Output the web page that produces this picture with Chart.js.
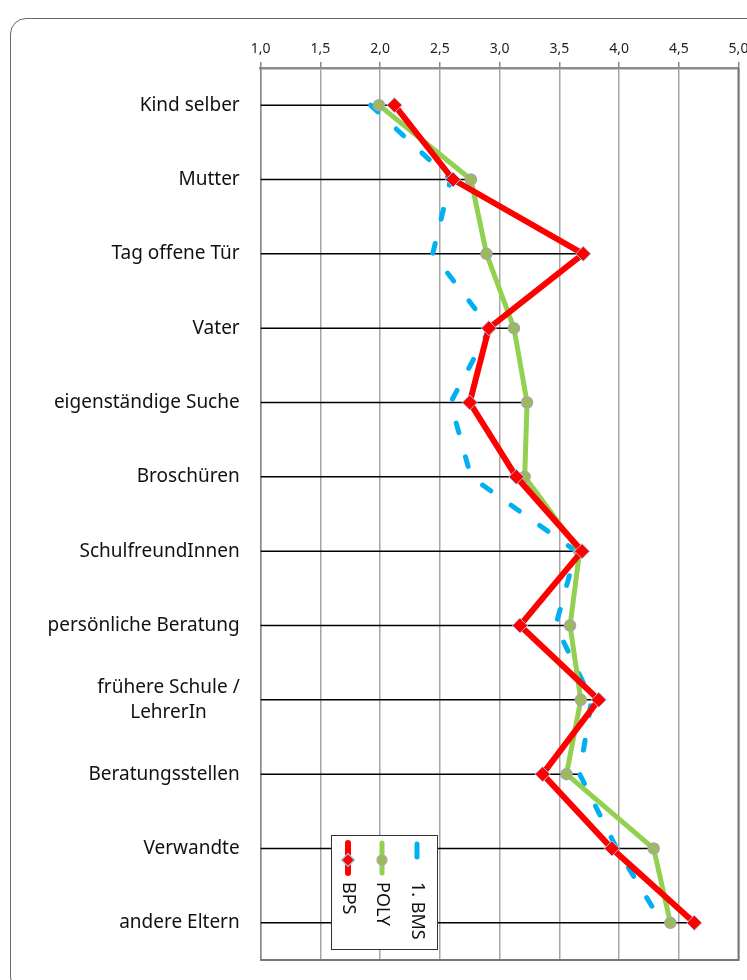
<!DOCTYPE html>
<html>
<head>
<meta charset="utf-8">
<script src="https://cdn.jsdelivr.net/npm/chart.js@4"></script>
<style>
  body { margin: 0; background: #fff; }
  #frame {
    position: absolute; left: 10px; top: 18px; width: 780px; height: 975px;
    border: 1.5px solid #666; border-radius: 16px; box-sizing: border-box;
  }
  #chart { position: absolute; left: 0; top: 0; }
</style>
</head>
<body>
<div id="frame"></div>
<canvas id="chart" width="747" height="980"></canvas>
<script>
// categories (top to bottom)
const categories = ['Kind selber', 'Mutter', 'Tag offene Tür', 'Vater', 'eigenständige Suche', 'Broschüren',
  'SchulfreundInnen', 'persönliche Beratung', ['frühere Schule /', 'LehrerIn'], 'Beratungsstellen', 'Verwandte', 'andere Eltern'];

// mean values per group
const bps  = [2.12, 2.61, 3.70, 2.91, 2.75, 3.14, 3.69, 3.17, 3.83, 3.36, 3.94, 4.63];
const poly = [1.99, 2.76, 2.89, 3.12, 3.23, 3.21, 3.67, 3.59, 3.68, 3.56, 4.29, 4.43];
const bms  = [1.92, 2.59, 2.44, 2.92, 2.59, 2.76, 3.64, 3.47, 3.77, 3.67, 3.98, 4.36];

const seriesNames = ['BPS', 'POLY', '1. BMS'];
const axisMin = 1, axisMax = 5, axisStep = 0.5;

const FONT = '"Noto Sans", "DejaVu Sans", sans-serif';

// black line from the axis to the highest value of each category
const dropLines = {
  id: 'dropLines',
  beforeDatasetsDraw(chart) {
    const ctx = chart.ctx, xs = chart.scales.x, ys = chart.scales.y;
    ctx.save();
    ctx.strokeStyle = '#000';
    ctx.lineWidth = 1.5;
    categories.forEach((c, i) => {
      const top = Math.max(bps[i], poly[i], bms[i]);
      const y = ys.getPixelForTick(i);
      ctx.beginPath();
      ctx.moveTo(xs.left, y);
      ctx.lineTo(xs.getPixelForValue(top), y);
      ctx.stroke();
    });
    // right and bottom frame of the plot
    ctx.strokeStyle = '#777';
    ctx.lineWidth = 2;
    ctx.beginPath();
    ctx.moveTo(xs.right, xs.bottom);
    ctx.lineTo(xs.right, ys.bottom);
    ctx.lineTo(xs.left, ys.bottom);
    ctx.stroke();
    ctx.restore();
  }
};

// category labels: single lines right aligned, two-line label centred
const catLabels = {
  id: 'catLabels',
  afterDraw(chart) {
    const ctx = chart.ctx, ys = chart.scales.y;
    const right = ys.right - 21;
    ctx.save();
    ctx.font = '19px ' + FONT;
    ctx.fillStyle = '#111';
    ctx.textBaseline = 'middle';
    categories.forEach((c, i) => {
      const y = ys.getPixelForTick(i);
      const lines = Array.isArray(c) ? c : [c];
      if (lines.length === 1) {
        ctx.textAlign = 'right';
        ctx.fillText(lines[0], right, y);
      } else {
        const w = Math.max(...lines.map(l => ctx.measureText(l).width));
        ctx.textAlign = 'center';
        const lh = 25;
        lines.forEach((l, k) => {
          ctx.fillText(l, right - w / 2, y + (k - (lines.length - 1) / 2) * lh);
        });
      }
    });
    ctx.restore();
  }
};

// legend box, rotated 90 degrees like the original
const rotLegend = {
  id: 'rotLegend',
  afterDraw(chart) {
    const ctx = chart.ctx;
    ctx.save();
    ctx.fillStyle = '#fff';
    ctx.fillRect(331, 835, 106, 114);
    ctx.strokeStyle = '#333';
    ctx.lineWidth = 1;
    ctx.strokeRect(331.5, 835.5, 106, 114);
    const cols = [348, 382, 417];
    chart.data.datasets.forEach((ds, i) => {
      const x = cols[i];
      ctx.strokeStyle = ds.borderColor;
      ctx.lineWidth = ds.borderWidth;
      ctx.lineCap = 'round';
      ctx.beginPath();
      if (ds.borderDash) {
        ctx.moveTo(x, 844); ctx.lineTo(x, 857);
      } else {
        ctx.moveTo(x, 843); ctx.lineTo(x, 873);
      }
      ctx.stroke();
      if (ds.pointRadius > 0) {
        ctx.fillStyle = ds.pointBackgroundColor;
        ctx.strokeStyle = ds.pointBorderColor;
        ctx.lineWidth = 1.2;
        ctx.beginPath();
        if (ds.pointStyle === 'rectRot') {
          const r = 6.5;
          ctx.moveTo(x, 860 - r); ctx.lineTo(x + r, 860); ctx.lineTo(x, 860 + r); ctx.lineTo(x - r, 860); ctx.closePath();
        } else {
          ctx.arc(x, 860, 5, 0, Math.PI * 2);
        }
        ctx.fill();
        ctx.stroke();
      }
      ctx.save();
      ctx.translate(x, 882);
      ctx.rotate(Math.PI / 2);
      ctx.font = '18px ' + FONT;
      ctx.fillStyle = '#111';
      ctx.textAlign = 'left';
      ctx.textBaseline = 'middle';
      ctx.fillText(ds.label, 0, 0);
      ctx.restore();
    });
    ctx.restore();
  }
};

new Chart(document.getElementById('chart'), {
  type: 'line',
  data: {
    labels: categories,
    datasets: [
      {
        label: seriesNames[0],
        data: bps,
        borderColor: '#ff0000',
        borderWidth: 6,
        pointStyle: 'rectRot',
        pointRadius: 7.5,
        pointBackgroundColor: '#ff0000',
        pointBorderColor: '#9dc3e6',
        pointBorderWidth: 1,
        tension: 0
      },
      {
        label: seriesNames[1],
        data: poly,
        borderColor: '#92d050',
        borderWidth: 5,
        pointStyle: 'circle',
        pointRadius: 5.5,
        pointBackgroundColor: '#9bbb59',
        pointBorderColor: '#a6a6a6',
        pointBorderWidth: 1.5,
        tension: 0
      },
      {
        label: seriesNames[2],
        data: bms,
        borderColor: '#00b0f0',
        borderWidth: 5,
        borderDash: [10, 25],
        borderCapStyle: 'round',
        pointRadius: 0,
        tension: 0
      }
    ]
  },
  options: {
    indexAxis: 'y',
    responsive: false,
    animation: false,
    devicePixelRatio: 1,
    layout: { padding: { left: 10, top: 0, right: 3.7, bottom: 20 } },
    plugins: {
      legend: { display: false },
      tooltip: { enabled: false }
    },
    scales: {
      x: {
        position: 'top',
        min: axisMin,
        max: axisMax,
        ticks: {
          stepSize: axisStep,
          color: '#222',
          font: { family: FONT, size: 14 },
          padding: 5,
          callback: v => v.toFixed(1).replace('.', ',')
        },
        grid: { color: '#a6a6a6', lineWidth: 1.5, tickLength: 6, tickColor: '#888' },
        border: { color: '#8c8c8c', width: 2.5 },
        afterFit(scale) {
          scale.height = 68;
          scale.paddingLeft = 0;
          scale.paddingRight = 0;
        }
      },
      y: {
        type: 'category',
        offset: true,
        ticks: { color: 'rgba(0,0,0,0)', font: { family: FONT, size: 12 }, padding: 22 },
        grid: { display: false, drawTicks: false },
        border: { color: '#888', width: 1.5 },
        afterFit(scale) {
          scale.width = 250.7;
          scale.paddingTop = 0;
          scale.paddingBottom = 0;
        }
      }
    }
  },
  plugins: [dropLines, catLabels, rotLegend]
});
</script>
</body>
</html>
